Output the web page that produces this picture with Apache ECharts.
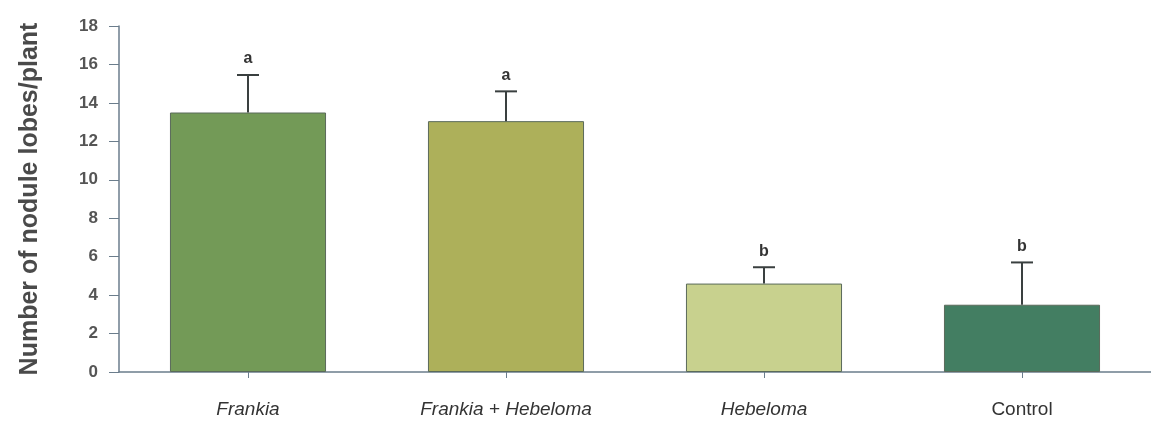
<!DOCTYPE html>
<html>
<head>
<meta charset="utf-8">
<script src="https://cdn.jsdelivr.net/npm/echarts@6/dist/echarts.min.js"></script>
<style>
  html, body { margin: 0; padding: 0; background: #fff; }
  #chart { width: 1151px; height: 434px; }
</style>
</head>
<body>
<div id="chart"></div>
<script>
var categories = ['Frankia', 'Frankia + Hebeloma', 'Hebeloma', 'Control']
var italicCats = [true, true, true, false]
var means = [13.5, 13.05, 4.6, 3.5]
var errors = [1.95, 1.55, 0.85, 2.2]
var letters = ['a', 'a', 'b', 'b']
var barColors = ['#739a57', '#adb05a', '#c8d18e', '#437e62']
var yTicks = [0, 2, 4, 6, 8, 10, 12, 14, 16, 18]

var chart = echarts.init(document.getElementById('chart'))

var axisColor = '#6b7d8c'

chart.setOption({
  animation: false,
  grid: { left: 119, right: -6, top: 26, bottom: 62 },
  xAxis: {
    type: 'category',
    data: categories,
    axisLine: { lineStyle: { color: axisColor, width: 1.5 } },
    axisTick: { show: true, alignWithLabel: true, interval: 0, length: 6, lineStyle: { color: axisColor } },
    axisLabel: {
      interval: 0,
      hideOverlap: false,
      margin: 28,
      fontFamily: 'Liberation Sans Narrow, Liberation Sans, Arial',
      fontSize: 19,
      color: '#333',
      formatter: function (v, i) {
        return italicCats[i] ? '{it|' + v + '}' : v
      },
      rich: {
        it: { fontStyle: 'italic', fontSize: 19, color: '#333', fontFamily: 'Liberation Sans Narrow, Liberation Sans, Arial' }
      }
    }
  },
  yAxis: {
    type: 'value',
    min: 0,
    max: 18,
    interval: 2,
    name: 'Number of nodule lobes/plant',
    nameLocation: 'middle',
    nameGap: 76,
    nameTextStyle: { fontSize: 25, fontWeight: 'bold', color: '#4a4a4a', fontFamily: 'Liberation Sans, Arial' },
    axisLine: { show: true, lineStyle: { color: axisColor, width: 1.5 } },
    axisTick: { show: true, length: 10, lineStyle: { color: axisColor } },
    splitLine: { show: false },
    axisLabel: {
      margin: 21,
      fontSize: 17,
      fontWeight: 'bold',
      color: '#555',
      fontFamily: 'Liberation Sans, Arial',
      formatter: function (v) { return yTicks.indexOf(v) >= 0 ? String(v) : '' }
    }
  },
  series: [
    {
      type: 'bar',
      barWidth: '60.5%',
      data: means.map(function (v, i) {
        return { value: v, itemStyle: { color: barColors[i] } }
      }),
      itemStyle: { borderColor: '#5a6a5a', borderWidth: 1 }
    },
    {
      type: 'custom',
      data: means.map(function (v, i) { return [i, v, v + errors[i]] }),
      renderItem: function (params, api) {
        var i = api.value(0)
        var base = api.coord([i, api.value(1)])
        var top = api.coord([i, api.value(2)])
        var half = 11
        return {
          type: 'group',
          children: [
            { type: 'line', shape: { x1: base[0], y1: base[1], x2: top[0], y2: top[1] },
              style: { stroke: '#3a4040', lineWidth: 2 } },
            { type: 'line', shape: { x1: top[0] - half, y1: top[1], x2: top[0] + half, y2: top[1] },
              style: { stroke: '#3a4040', lineWidth: 2 } },
            { type: 'text', x: top[0], y: top[1] - 8,
              style: { text: letters[i], fill: '#333', font: 'bold 16px Liberation Sans, Arial',
                       align: 'center', verticalAlign: 'bottom' } }
          ]
        }
      },
      z: 5
    }
  ]
})
</script>
</body>
</html>
